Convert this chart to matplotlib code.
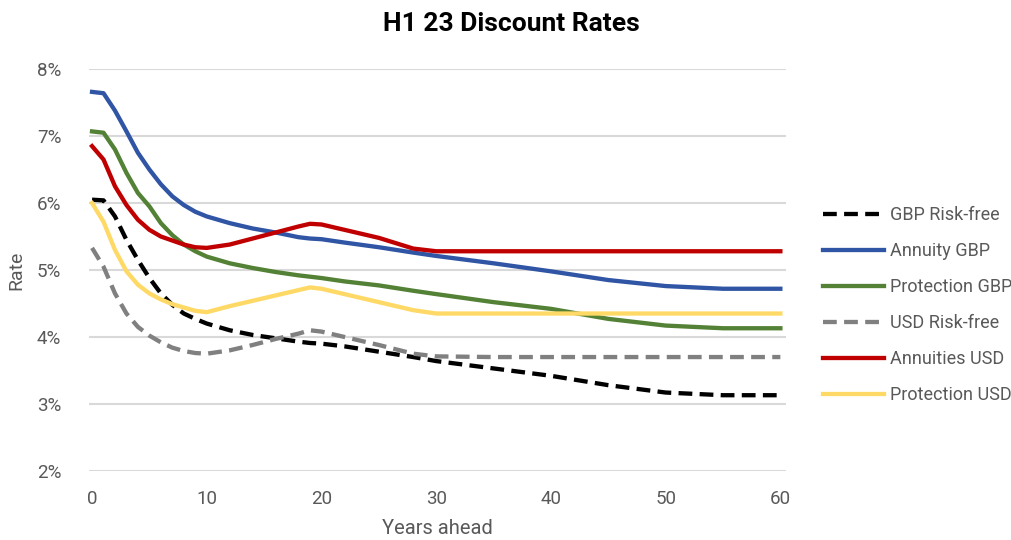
import matplotlib
matplotlib.use('Agg')
import matplotlib.pyplot as plt
from matplotlib.ticker import FuncFormatter

plt.rcParams['font.family'] = ['Roboto', 'DejaVu Sans']

# Years ahead
years = [0, 1, 2, 3, 4, 5, 6, 7, 8, 9, 10, 12, 14, 16, 18, 19, 20, 22, 25, 28, 30, 35, 40, 45, 50, 55, 60]

# Discount rates (%)
gbp_rf = [6.05, 6.04, 5.80, 5.45, 5.15, 4.88, 4.65, 4.48, 4.35, 4.27, 4.20, 4.10, 4.03, 3.98, 3.93, 3.91,
          3.90, 3.86, 3.78, 3.70, 3.64, 3.53, 3.42, 3.28, 3.17, 3.13, 3.13]
annuity_gbp = [7.66, 7.64, 7.38, 7.07, 6.75, 6.50, 6.28, 6.10, 5.97, 5.87, 5.80, 5.70, 5.62, 5.56, 5.49, 5.47,
               5.46, 5.41, 5.34, 5.26, 5.21, 5.10, 4.98, 4.85, 4.76, 4.72, 4.72]
protection_gbp = [7.07, 7.05, 6.80, 6.45, 6.15, 5.95, 5.70, 5.52, 5.38, 5.28, 5.20, 5.10, 5.03, 4.97, 4.92, 4.90,
                  4.88, 4.83, 4.77, 4.69, 4.64, 4.52, 4.42, 4.27, 4.17, 4.13, 4.13]
usd_rf = [5.33, 5.05, 4.65, 4.35, 4.15, 4.02, 3.92, 3.84, 3.79, 3.76, 3.75, 3.80, 3.88, 3.97, 4.05, 4.10,
          4.08, 4.00, 3.88, 3.75, 3.71, 3.70, 3.70, 3.70, 3.70, 3.70, 3.70]
annuities_usd = [6.85, 6.65, 6.25, 5.97, 5.75, 5.60, 5.50, 5.44, 5.38, 5.34, 5.33, 5.38, 5.47, 5.56, 5.65, 5.69,
                 5.68, 5.60, 5.48, 5.32, 5.28, 5.28, 5.28, 5.28, 5.28, 5.28, 5.28]
protection_usd = [6.00, 5.72, 5.30, 4.98, 4.78, 4.65, 4.56, 4.49, 4.44, 4.39, 4.37, 4.46, 4.54, 4.62, 4.70, 4.74,
                  4.72, 4.64, 4.52, 4.40, 4.35, 4.35, 4.35, 4.35, 4.35, 4.35, 4.35]

fig = plt.figure(figsize=(10.12, 5.40), dpi=100)
ax = fig.add_axes([0.088, 0.128, 0.689, 0.744])

lw = 3.1
dash = (0, (3.2, 1.7))
ax.plot(years, gbp_rf, color='black', lw=lw, ls=dash, label='GBP Risk-free')
ax.plot(years, annuity_gbp, color='#2F55A4', lw=lw, label='Annuity GBP')
ax.plot(years, protection_gbp, color='#538135', lw=lw, label='Protection GBP')
ax.plot(years, usd_rf, color='#808080', lw=lw, ls=dash, label='USD Risk-free')
ax.plot(years, annuities_usd, color='#C00000', lw=lw, label='Annuities USD')
ax.plot(years, protection_usd, color='#FFD966', lw=lw, label='Protection USD')

ax.set_xlim(-0.26, 60.52)
ax.set_ylim(2, 8)
ax.set_xticks(range(0, 61, 10))
ax.set_yticks(range(2, 9))
ax.yaxis.set_major_formatter(FuncFormatter(lambda v, p: f'{int(v)}%'))
ax.grid(axis='y', color='#D9D9D9', lw=1.5)
ax.set_axisbelow(True)
for s in ax.spines.values():
    s.set_visible(False)
ax.tick_params(length=0, labelsize=13.5, labelcolor='#595959', pad=14)
ax.tick_params(axis='y', pad=20)

ax.set_xlabel('Years ahead', fontsize=14.5, color='#595959', labelpad=8)
ax.set_ylabel('Rate', fontsize=14, color='#595959', labelpad=8)
fig.suptitle('H1 23 Discount Rates', fontsize=19, fontweight='bold', x=0.505, y=0.978)

fig.legend(loc='center left', bbox_to_anchor=(0.797, 0.435), frameon=False, fontsize=13,
           labelcolor='#595959', handlelength=3.4, handletextpad=0.3, labelspacing=1.0)

fig.savefig('out.png', dpi=100)
